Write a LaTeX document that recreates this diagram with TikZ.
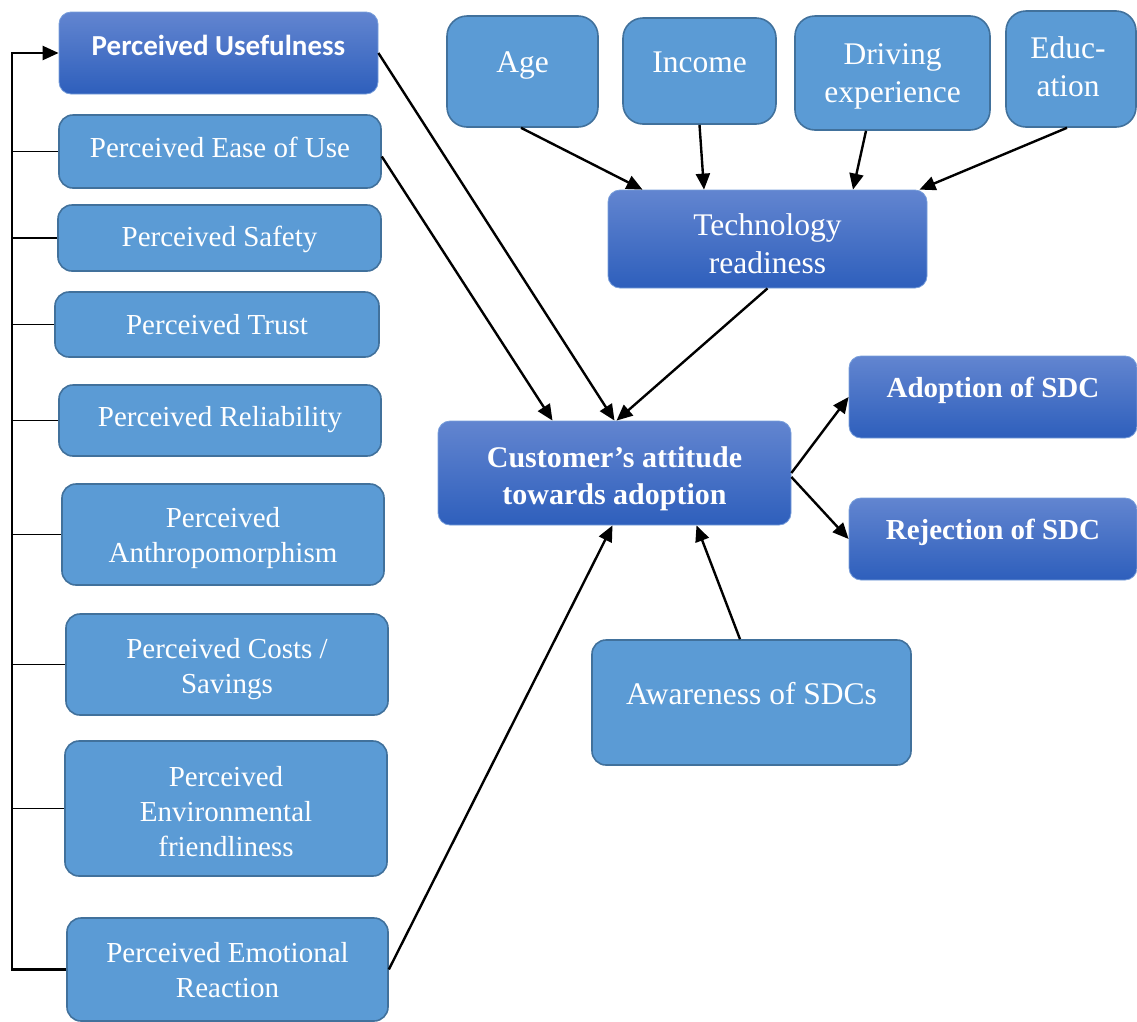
\documentclass[tikz,border=0pt]{standalone}
\usepackage{fontspec}
\setmainfont{Liberation Serif}
\newfontfamily\calibri{Carlito}
\usetikzlibrary{arrows.meta,calc}

\definecolor{boxfill}{RGB}{91,155,213}
\definecolor{boxline}{RGB}{65,113,156}
\definecolor{gradtop}{RGB}{98,133,208}
\definecolor{gradbot}{RGB}{46,95,188}
\definecolor{gradline}{RGB}{120,158,218}

\tikzset{
  lightbox/.style={draw=boxline, line width=1.6pt, fill=boxfill, rounded corners=14pt, inner sep=0pt},
  darkbox/.style={draw=gradline, line width=0.8pt, top color=gradtop, bottom color=gradbot, rounded corners=12pt, inner sep=0pt},
  txt/.style={text=white, align=center, inner sep=0pt, font=\fontsize{29}{35}\selectfont},
  bigtxt/.style={txt, font=\fontsize{31.5}{38}\selectfont},
  boldtxt/.style={txt, font=\fontsize{30}{37}\selectfont\bfseries},
  link/.style={line width=2.4pt, -{Triangle[length=16pt,width=14pt]}},
  tick/.style={line width=1.2pt}
}

\begin{document}
\begin{tikzpicture}[x=1pt, y=-1pt]
\useasboundingbox (0,0) rectangle (1137,1021);

% perception factors (left column)
\node[darkbox, minimum width=319pt, minimum height=82pt,
  label={[txt, font=\fontsize{29}{35}\selectfont\calibri\bfseries, yshift=8pt]center:Perceived Usefulness}] (pu) at (218.5,53) {};
\node[lightbox, minimum width=322pt, minimum height=73pt,
  label={[txt, yshift=4pt]center:Perceived Ease of Use}] (peu) at (220,151.5) {};
\node[lightbox, minimum width=323pt, minimum height=66pt,
  label={[txt, yshift=-1pt]center:Perceived Safety}] (psa) at (219.5,238) {};
\node[lightbox, minimum width=324pt, minimum height=65pt,
  label={[txt]center:Perceived Trust}] (ptr) at (217,324.5) {};
\node[lightbox, minimum width=322pt, minimum height=71pt,
  label={[txt, yshift=1pt]center:Perceived Reliability}] (prl) at (220,420.5) {};
\node[lightbox, minimum width=322pt, minimum height=101pt,
  label={[txt, yshift=-4pt]center:{Perceived\\Anthropomorphism}}] (pan) at (223,534.5) {};
\node[lightbox, minimum width=322pt, minimum height=101pt,
  label={[txt, yshift=-5pt]center:{Perceived Costs /\\Savings}}] (pco) at (227,664.5) {};
\node[lightbox, minimum width=322pt, minimum height=135pt,
  label={[txt, yshift=-3pt]center:{Perceived\\Environmental\\friendliness}}] (pen) at (226,808.5) {};
\node[lightbox, minimum width=321pt, minimum height=103pt,
  label={[txt, yshift=-1pt]center:{Perceived Emotional\\Reaction}}] (pem) at (227.5,969.5) {};

% demographic factors (top row)
\node[lightbox, rounded corners=20pt, minimum width=151pt, minimum height=111pt,
  label={[bigtxt, yshift=6pt]center:Age}] (age) at (522.5,71.5) {};
\node[lightbox, rounded corners=20pt, minimum width=153pt, minimum height=106pt,
  label={[bigtxt, yshift=9pt]center:Income}] (inc) at (699.5,71) {};
\node[lightbox, rounded corners=20pt, minimum width=195pt, minimum height=114pt,
  label={[bigtxt, yshift=-3pt]center:{Driving\\experience}}] (drv) at (892.5,73) {};
\node[lightbox, rounded corners=20pt, minimum width=130pt, minimum height=116pt,
  label={[bigtxt, xshift=-3pt, yshift=2pt]center:{Educ-\\ation}}] (edu) at (1071,69) {};

% central constructs
\node[darkbox, minimum width=319pt, minimum height=98pt,
  label={[bigtxt, yshift=-5pt]center:{Technology\\readiness}}] (tr) at (767.5,239) {};
\node[darkbox, minimum width=353pt, minimum height=104pt,
  label={[boldtxt, yshift=-6pt]center:{Customer’s attitude\\towards adoption}}] (cust) at (614.5,473) {};
\node[darkbox, minimum width=288pt, minimum height=82pt,
  label={[txt, font=\fontsize{29}{35}\selectfont\bfseries, yshift=7pt]center:Adoption of SDC}] (adp) at (993,397) {};
\node[darkbox, minimum width=288pt, minimum height=82pt,
  label={[txt, font=\fontsize{29}{35}\selectfont\bfseries, yshift=7pt]center:Rejection of SDC}] (rej) at (993,539) {};
\node[lightbox, minimum width=319pt, minimum height=125pt,
  label={[bigtxt, yshift=9pt]center:Awareness of SDCs}] (aw) at (751.5,702.5) {};

% feedback bus on the left
\coordinate (bus) at (12,0);
\draw[link] (pem.west) -- (pem.west -| bus) -- (pu.west -| bus) -- (pu.west);
\foreach \n in {peu,psa,ptr,prl,pan,pco,pen}
  \draw[tick] (\n.west) -- (\n.west -| bus);

% influences on the attitude
\draw[link] (pu.east) -- (cust.north);
\draw[link] ([yshift=-5pt]peu.east) -- ([xshift=-62pt]cust.north);
\draw[link] (tr.south) -- ([xshift=2pt]cust.north);
\draw[link] (pem.east) -- ([xshift=-2pt]cust.south);
\draw[link] ([xshift=-11.5pt]aw.north) -- ([xshift=82pt]cust.south);

% demographics into technology readiness
\draw[link] ([xshift=-1.5pt]age.south) -- ([xshift=-125pt]tr.north);
\draw[link] (inc.south) -- ([xshift=-63.5pt]tr.north);
\draw[link] ([xshift=-26.5pt]drv.south) -- ([xshift=85.5pt]tr.north);
\draw[link] ([xshift=-4pt]edu.south) -- ([xshift=152pt]tr.north);

% outcomes
\draw[link] (cust.east) -- (adp.west);
\draw[link] ([yshift=-4pt]cust.east) -- (rej.west);
\end{tikzpicture}
\end{document}
